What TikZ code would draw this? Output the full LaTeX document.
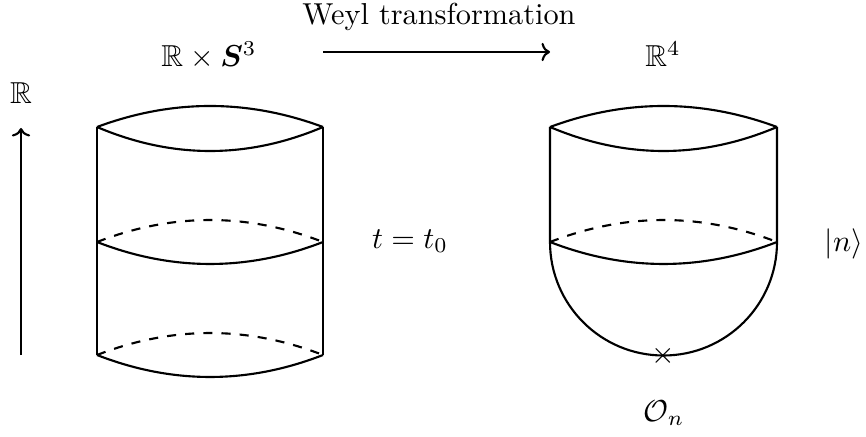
\documentclass[tikz,border=0pt]{standalone}
\usepackage{amsmath,amssymb,bm}
\usetikzlibrary{arrows.meta}
\begin{document}
\begin{tikzpicture}[x=0.33pt,y=-0.33pt,line width=0.7pt,
  lbl/.style={inner sep=0pt},
  hidden/.style={dashed},
  tip/.style={-{Computer Modern Rightarrow[length=2.8pt,width=6pt]}}]
\useasboundingbox (0,0) rectangle (866,437);
% left cylinder
\coordinate (LTL) at (97,127);
\coordinate (LTR) at (323,127);
\coordinate (LML) at (97,242);
\coordinate (LMR) at (323,242);
\coordinate (LBL) at (97,355);
\coordinate (LBR) at (323,355);
\draw (LTL) .. controls (172.3,99) and (247.7,99) .. (LTR);
\draw (LTL) .. controls (172.3,159) and (247.7,159) .. (LTR);
\draw[hidden] (LML) .. controls (172.3,212.7) and (247.7,212.7) .. (LMR);
\draw (LML) .. controls (172.3,271.3) and (247.7,271.3) .. (LMR);
\draw[hidden] (LBL) .. controls (172.3,325.7) and (247.7,325.7) .. (LBR);
\draw (LBL) .. controls (172.3,384.3) and (247.7,384.3) .. (LBR);
\draw (LTL) -- (LBL);
\draw (LTR) -- (LBR);
% right shape
\coordinate (RTL) at (550,127);
\coordinate (RTR) at (777,127);
\coordinate (RML) at (550,242);
\coordinate (RMR) at (777,242);
\draw (RTL) .. controls (625.7,99) and (701.3,99) .. (RTR);
\draw (RTL) .. controls (625.7,159) and (701.3,159) .. (RTR);
\draw[hidden] (RML) .. controls (625.7,212.7) and (701.3,212.7) .. (RMR);
\draw (RML) .. controls (625.7,271.3) and (701.3,271.3) .. (RMR);
\draw (RTL) -- (RML) arc[start angle=180,end angle=0,radius=113.5] -- (RTR);
\node[lbl] (cross) at (663.5,356) {$\times$};
% arrows
\coordinate (T0) at (21,355);
\coordinate (T1) at (21,128);
\draw[tip] (T0) -- (T1);
\coordinate (W0) at (323,52);
\coordinate (W1) at (550,52);
\draw[tip] (W0) -- (W1);
% labels
\node[lbl] (weyl) at (439,16.5) {Weyl transformation};
\node[lbl] (cyl) at (209,55) {$\mathbb{R}\times\bm{S}^3$};
\node[lbl] (flat) at (663,54) {$\mathbb{R}^4$};
\node[lbl] (time) at (21,93.5) {$\mathbb{R}$};
\node[lbl] (tt) at (410,241) {$t=t_0$};
\node[lbl] (ket) at (844,244) {$|n\rangle$};
\node[lbl] (op) at (664,413) {$\mathcal{O}_n$};
\end{tikzpicture}
\end{document}
